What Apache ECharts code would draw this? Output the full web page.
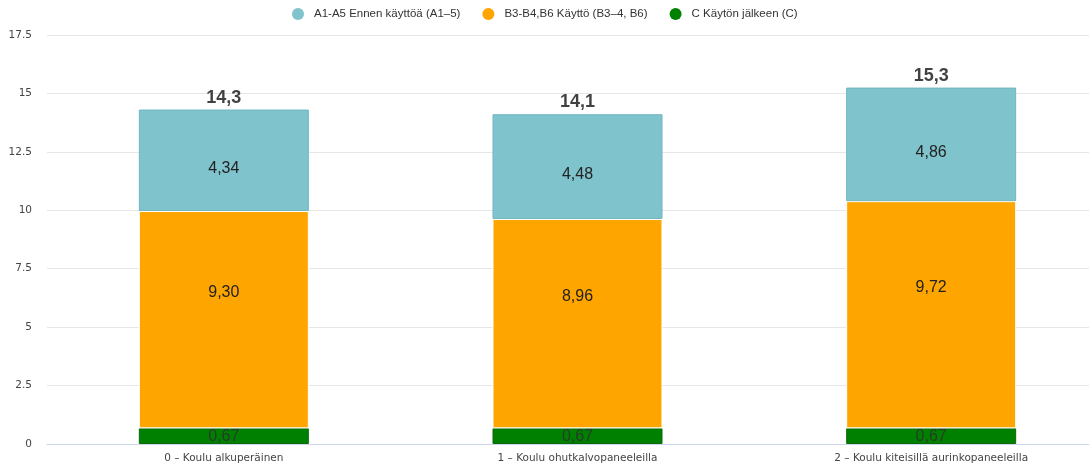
<!DOCTYPE html>
<html>
<head>
<meta charset="utf-8">
<script src="https://cdn.jsdelivr.net/npm/echarts@6/dist/echarts.min.js"></script>
<style>
    html, body { margin: 0; padding: 0; background: #fff; overflow: hidden; }
    #main { width: 1108px; height: 469px; }
</style>
</head>
<body>
<div id="main"></div>
<script>
var categories = ['0 – Koulu alkuperäinen', '1 – Koulu ohutkalvopaneeleilla', '2 – Koulu kiteisillä aurinkopaneeleilla'];
var seriesNames = ['A1-A5 Ennen käyttöä (A1–5)', 'B3-B4,B6 Käyttö (B3–4, B6)', 'C Käytön jälkeen (C)'];
var valuesA = [4.34, 4.48, 4.86];
var valuesB = [9.30, 8.96, 9.72];
var valuesC = [0.67, 0.67, 0.67];
var yTicks = [0, 2.5, 5, 7.5, 10, 12.5, 15, 17.5];

var totals = [];
for (var i = 0; i < categories.length; i++) {
    totals.push(valuesA[i] + valuesB[i] + valuesC[i]);
}

function fi(v, d) {
    return v.toFixed(d).replace('.', ',');
}

var myChart = echarts.init(document.getElementById('main'));

function segLabel(dy, col) {
    return {
        show: true,
        position: 'inside',
        offset: [0, dy],
        fontFamily: 'Liberation Sans, Arial',
        fontSize: 16,
        color: col || '#222',
        formatter: function (p) { return fi(p.value, 2); }
    };
}

var option = {
    animation: false,
    legend: {
        top: 3,
        left: 287,
        icon: 'circle',
        itemWidth: 12,
        itemHeight: 12,
        itemGap: 22,
        itemStyle: { borderWidth: 0 },
        textStyle: { fontFamily: 'Liberation Sans, Arial', fontSize: 11.5, color: '#333', padding: [0, 0, 0, 5] },
        data: seriesNames
    },
    // plot area runs past the right edge of the window, as in the original
    grid: { left: 47, top: 35, bottom: 25, right: 0, containLabel: false },
    xAxis: {
        type: 'category',
        data: categories,
        axisLine: { lineStyle: { color: '#ccd6eb' } },
        axisTick: { show: false },
        axisLabel: { fontFamily: 'DejaVu Sans', fontSize: 10.5, color: '#444', margin: 9 }
    },
    yAxis: {
        type: 'value',
        min: yTicks[0],
        max: yTicks[yTicks.length - 1],
        interval: 2.5,
        axisLine: { show: false },
        axisTick: { show: false },
        splitLine: { lineStyle: { color: '#e6e6e6' } },
        axisLabel: { fontFamily: 'DejaVu Sans', fontSize: 10.5, color: '#444', margin: 15 }
    },
    series: [{
        name: seriesNames[2],
        type: 'bar',
        stack: 'total',
        barWidth: 170,
        itemStyle: { color: '#008000', borderColor: '#0a6a0a', borderWidth: 1 },
        label: segLabel(0, '#2a3a2a'),
        data: valuesC
    }, {
        name: seriesNames[1],
        type: 'bar',
        stack: 'total',
        itemStyle: { color: '#ffa500', borderColor: '#fff', borderWidth: 1 },
        label: segLabel(-27),
        data: valuesB
    }, {
        name: seriesNames[0],
        type: 'bar',
        stack: 'total',
        itemStyle: { color: '#7fc3cc', borderColor: '#72b6bf', borderWidth: 1 },
        label: segLabel(8),
        data: valuesA
    }, {
        name: 'total',
        type: 'scatter',
        symbolSize: 0,
        silent: true,
        label: {
            show: true,
            position: 'top',
            distance: 3,
            fontFamily: 'Liberation Sans, Arial',
            fontSize: 18,
            fontWeight: 'bold',
            color: '#111',
            formatter: function (p) { return fi(p.value, 1); }
        },
        data: totals
    }],
    color: ['#7fc3cc', '#ffa500', '#008000']
};

myChart.setOption(option);
</script>
</body>
</html>
